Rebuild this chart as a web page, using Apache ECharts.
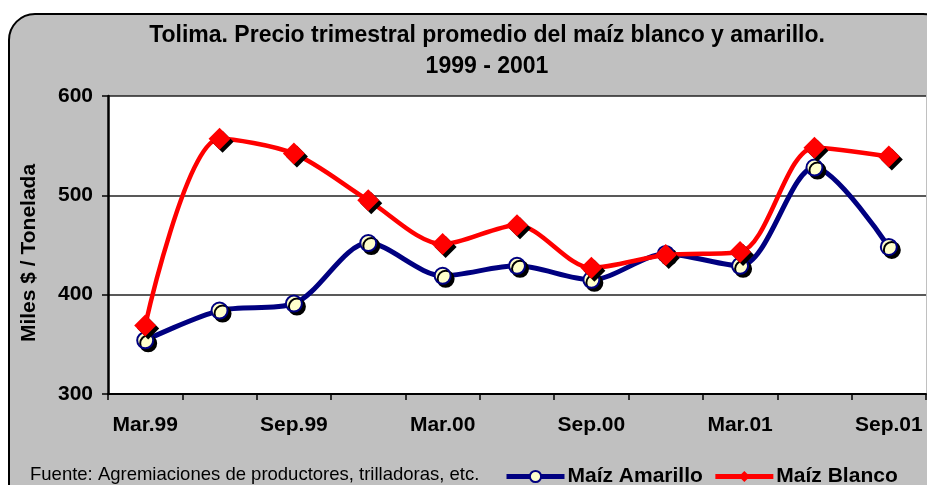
<!DOCTYPE html>
<html>
<head>
<meta charset="utf-8">
<title>Tolima maiz</title>
<script src="https://cdn.jsdelivr.net/npm/echarts@6/dist/echarts.min.js"></script>
<style>
body { margin:0; background:#fff; }
#chart { width:927px; height:485px; }
</style>
</head>
<body>
<div id="chart"></div>
<script>
// trimestres 1999 - 2001
var trimestres = ['Mar.99','Jun.99','Sep.99','Dic.99','Mar.00','Jun.00','Sep.00','Dic.00','Mar.01','Jun.01','Sep.01'];
var amarillo = [354, 384, 391, 452, 419, 429, 415, 441, 429, 528, 448];
var blanco   = [369, 557, 542, 495, 451, 470, 427, 440, 443, 548, 539];
var yTicks = [300, 400, 500, 600];

var font = 'Liberation Sans';
var chart = echarts.init(document.getElementById('chart'));

var option = {
    backgroundColor: '#fff',
    graphic: [{
        type: 'rect',
        z: -10,
        shape: { x: 9, y: 14, width: 940, height: 500, r: 26 },
        style: { fill: '#c0c0c0', stroke: '#000', lineWidth: 2 }
    }, {
        type: 'text',
        left: 30, top: 465,
        style: { text: 'Fuente: Agremiaciones de productores, trilladoras, etc.', font: '18.5px ' + font, fill: '#000' }
    }],
    title: {
        text: 'Tolima. Precio trimestral promedio del maíz blanco y amarillo.\n1999 - 2001',
        left: 482, top: 15, textAlign: 'center',
        textStyle: { fontFamily: font, fontWeight: 'bold', fontSize: 23, lineHeight: 31, color: '#000' }
    },
    legend: {
        left: 499, top: 461,
        itemWidth: 58, itemHeight: 14, itemGap: 10,
        textStyle: { fontFamily: font, fontWeight: 'bold', fontSize: 21, color: '#000', padding: [0, 0, 0, -2] },
        data: [
            { name: 'Maíz Amarillo', lineStyle: { width: 5 } },
            { name: 'Maíz Blanco', lineStyle: { width: 5 } }
        ]
    },
    grid: {
        left: 108, right: 1, top: 96, bottom: 91,
        show: true, backgroundColor: '#fff', borderWidth: 0
    },
    xAxis: {
        type: 'category',
        data: trimestres,
        boundaryGap: true,
        axisLine: { lineStyle: { color: '#000', width: 2 } },
        axisTick: { show: true, length: 6, interval: 0, lineStyle: { color: '#000', width: 1.5 } },
        axisLabel: { interval: 1, margin: 21, fontFamily: font, fontWeight: 'bold', fontSize: 21, color: '#000' }
    },
    yAxis: {
        type: 'value',
        min: yTicks[0], max: yTicks[yTicks.length - 1], interval: 100,
        name: 'Miles $ / Tonelada',
        nameLocation: 'middle', nameGap: 68, nameRotate: 90,
        nameTextStyle: { fontFamily: font, fontWeight: 'bold', fontSize: 21, color: '#000', padding: [0, 16, 0, 0] },
        axisLine: { show: true, lineStyle: { color: '#000', width: 2.5 } },
        axisTick: { show: true, length: 6, lineStyle: { color: '#000', width: 1.5 } },
        axisLabel: { margin: 15, fontFamily: font, fontWeight: 'bold', fontSize: 21, color: '#000' },
        splitLine: { show: true, lineStyle: { color: '#222', width: 1.5 } }
    },
    series: [{
        name: 'Maíz Amarillo',
        type: 'line',
        data: amarillo,
        smooth: 0.3,
        symbol: 'circle', symbolSize: 16,
        lineStyle: { color: '#000080', width: 5 },
        itemStyle: { color: '#ffffcc', borderColor: '#000080', borderWidth: 2,
            shadowColor: '#000', shadowOffsetX: 3, shadowOffsetY: 3, shadowBlur: 0 },
        z: 2
    }, {
        name: 'Maíz Blanco',
        type: 'line',
        data: blanco,
        smooth: 0.3,
        symbol: 'diamond', symbolSize: [22, 22],
        lineStyle: { color: '#ff0000', width: 4.5 },
        itemStyle: { color: '#ff0000', borderWidth: 0,
            shadowColor: '#000', shadowOffsetX: 3, shadowOffsetY: 3, shadowBlur: 0 },
        z: 3
    }]
};
chart.setOption(option);
</script>
</body>
</html>
